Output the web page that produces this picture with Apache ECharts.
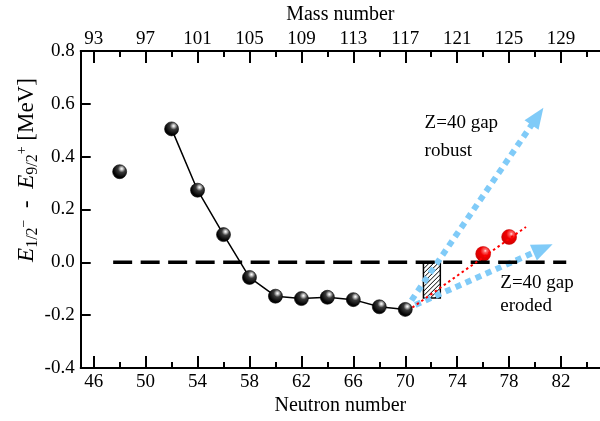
<!DOCTYPE html>
<html><head><meta charset="utf-8">
<script src="https://cdn.jsdelivr.net/npm/echarts@6/dist/echarts.min.js"></script>
<style>html,body{margin:0;padding:0;background:#fff}#c{width:600px;height:421px}</style>
</head><body><div id="c"></div>
<script>
// ---- data ----
const neutronNumbers = [48, 52, 54, 56, 58, 60, 62, 64, 66, 68, 70];
const energyDiff = [0.343, 0.505, 0.273, 0.105, -0.057, -0.128, -0.137, -0.132, -0.141, -0.168, -0.178];
const predictedN = [76, 78];
const predictedE = [0.032, 0.096];
const fitLineN = [70.2, 79.3];
const fitLineE = [-0.183, 0.134];
const zeroLineN = [47.5, 82.4];
const zeroLineE = [0, 0];
const robustArrow = [70, -0.178, 80.64, 0.585];
const erodedArrow = [70, -0.178, 81.35, 0.069];
const hatchBox = [71.4, 0, 72.7, -0.135];
const neutronTicks = [46, 50, 54, 58, 62, 66, 70, 74, 78, 82];
const neutronMinorTicks = [48, 52, 56, 60, 64, 68, 72, 76, 80, 84];
const massTicks = [93, 97, 101, 105, 109, 113, 117, 121, 125, 129];
const labelTexts = ['Z=40 gap', 'robust', 'Z=40 gap', 'eroded'];
const labelN = [71.49, 71.49, 77.32, 77.32];
const labelE = [0.526, 0.423, -0.079, -0.166];

const FONT = 'Liberation Serif';
const BLUE = '#80cbf8';
const chart = echarts.init(document.getElementById('c'), null, {renderer: 'canvas'});

const blackBall = {
  type: 'radial', x: 0.64, y: 0.3, r: 0.8,
  colorStops: [{offset: 0, color: '#ffffff'}, {offset: 0.1, color: '#cfcfcf'}, {offset: 0.32, color: '#3a3a3a'}, {offset: 0.75, color: '#000'}, {offset: 1, color: '#1c1c1c'}]
};
const redBall = {
  type: 'radial', x: 0.64, y: 0.3, r: 0.8,
  colorStops: [{offset: 0, color: '#ffe8e8'}, {offset: 0.12, color: '#ff6a6a'}, {offset: 0.4, color: '#f00000'}, {offset: 0.8, color: '#d80000'}, {offset: 1, color: '#b00000'}]
};

// y-axis title pieces (measured so subscripts can be placed)
const mctx = document.createElement('canvas').getContext('2d');
function tw(t, size, italic) { mctx.font = (italic ? 'italic ' : '') + size + 'px "' + FONT + '"'; return mctx.measureText(t).width; }
const titlePieces = [
  {t: 'E', s: 23, it: true, dy: 0}, {t: '1/2', s: 16, dy: 6}, {t: '−', s: 14, dy: -3},
  {t: '  -  ', s: 23, dy: 0},
  {t: 'E', s: 23, it: true, dy: 0}, {t: '9/2', s: 16, dy: 6}, {t: '+', s: 14, dy: -5},
  {t: ' [MeV]', s: 23, dy: 0}
];
let tot = 0; titlePieces.forEach(p => { p.w = tw(p.t, p.s, p.it); tot += p.w; });
let cx = -tot / 2;
const titleChildren = titlePieces.map(p => {
  const el = {type: 'text', x: cx, y: p.dy, style: {text: p.t, fontFamily: FONT, fontSize: p.s,
    fontStyle: p.it ? 'italic' : 'normal', fill: '#000', align: 'left', verticalAlign: 'middle'}};
  cx += p.w; return el;
});

const tickStyle = {color: '#000', width: 2};
function xAxisDef(pos, major) {
  const a = {
    type: 'value', position: pos, min: 45, max: 85,
    splitLine: {show: false},
    axisLine: {show: major, onZero: false, lineStyle: {color: '#000', width: 2}},
    axisTick: {show: true, inside: true, length: major ? 12 : 6, lineStyle: tickStyle,
      customValues: major ? neutronTicks : neutronMinorTicks},
    axisLabel: {show: major, customValues: neutronTicks, margin: pos === 'bottom' ? 4 : 2,
      fontFamily: FONT, fontSize: 19, color: '#000'}
  };
  if (major) {
    a.name = pos === 'bottom' ? 'Neutron number' : 'Mass number';
    a.nameLocation = 'middle';
    a.nameGap = pos === 'bottom' ? 22 : 24;
    a.nameTextStyle = {fontFamily: FONT, fontSize: 20, color: '#000'};
    if (pos === 'top') a.axisLabel.formatter = v => String(massTicks[neutronTicks.indexOf(v)]);
  }
  return a;
}

const option = {
  animation: false,
  backgroundColor: '#fff',
  grid: {left: 80.7, right: -2.3, top: 49.3, bottom: 47.7},
  xAxis: [xAxisDef('bottom', true), xAxisDef('bottom', false), xAxisDef('top', true), xAxisDef('top', false)],
  yAxis: {
    type: 'value', min: -0.4, max: 0.8, interval: 0.2,
    splitLine: {show: false},
    axisLine: {show: true, onZero: false, lineStyle: {color: '#000', width: 2}},
    axisTick: {inside: true, length: 10, lineStyle: tickStyle},
    axisLabel: {margin: 6, fontFamily: FONT, fontSize: 19, color: '#000',
      formatter: v => (Math.abs(v) < 1e-9 ? 0 : v).toFixed(1)}
  },
  graphic: [{type: 'group', x: 27, y: 170, rotation: Math.PI / 2, children: titleChildren}],
  series: [
    { // dashed zero line
      type: 'line', data: zeroLineN.map((n, i) => [n, zeroLineE[i]]), symbol: 'none', silent: true,
      lineStyle: {color: '#000', width: 3.5, type: [19, 8.5], cap: 'butt'}
    },
    { // hatched box
      type: 'custom', data: [hatchBox], silent: true,
      renderItem: (params, api) => {
        const a = api.coord([api.value(0), api.value(1)]);
        const b = api.coord([api.value(2), api.value(3)]);
        const L = Math.min(a[0], b[0]), R = Math.max(a[0], b[0]);
        const T = Math.min(a[1], b[1]), B = Math.max(a[1], b[1]);
        const children = [{type: 'rect', shape: {x: L, y: T, width: R - L, height: B - T},
          style: {fill: '#fff', stroke: 'none'}}];
        for (let k = L + T + 2; k < R + B; k += 4.5) {
          const xa = Math.max(L, k - B), xb = Math.min(R, k - T);
          if (xb > xa) children.push({type: 'line', shape: {x1: xa, y1: k - xa, x2: xb, y2: k - xb},
            style: {stroke: '#000', lineWidth: 1}});
        }
        children.push({type: 'rect', shape: {x: L, y: T, width: R - L, height: B - T},
          style: {fill: 'none', stroke: '#000', lineWidth: 1.5}});
        return {type: 'group', children};
      }
    },
    { // connected data
      type: 'line', data: neutronNumbers.slice(1).map((n, i) => [n, energyDiff[i + 1]]),
      symbol: 'circle', symbolSize: 14, showAllSymbol: true,
      lineStyle: {color: '#000', width: 1.5},
      itemStyle: {color: blackBall, borderColor: '#000', borderWidth: 0.6, opacity: 1}
    },
    { // isolated point
      type: 'scatter', data: [[neutronNumbers[0], energyDiff[0]]],
      symbol: 'circle', symbolSize: 14,
      itemStyle: {color: blackBall, borderColor: '#000', borderWidth: 0.6, opacity: 1}
    },
    { // blue arrows
      type: 'custom', data: [robustArrow, erodedArrow], silent: true,
      renderItem: (params, api) => {
        const p0 = api.coord([api.value(0), api.value(1)]);
        const p1 = api.coord([api.value(2), api.value(3)]);
        const dx = p1[0] - p0[0], dy = p1[1] - p0[1];
        const len = Math.hypot(dx, dy), ux = dx / len, uy = dy / len;
        const hl = 21, hw = 17;
        const bx = p1[0] - ux * hl, by = p1[1] - uy * hl;
        const nx = -uy, ny = ux;
        return {type: 'group', children: [
          {type: 'line', shape: {x1: p0[0], y1: p0[1], x2: bx + ux * 2, y2: by + uy * 2},
            style: {stroke: BLUE, lineWidth: 6, lineDash: [6, 5], lineCap: 'butt'}},
          {type: 'polygon', shape: {points: [[p1[0], p1[1]], [bx + nx * hw / 2, by + ny * hw / 2], [bx - nx * hw / 2, by - ny * hw / 2]]},
            style: {fill: BLUE}}
        ]};
      }
    },
    { // red fit line
      type: 'line', data: fitLineN.map((n, i) => [n, fitLineE[i]]), symbol: 'none', silent: true,
      lineStyle: {color: '#ff0000', width: 2, type: [2.5, 3]}
    },
    { // predicted points
      type: 'scatter', data: predictedN.map((n, i) => [n, predictedE[i]]),
      symbol: 'circle', symbolSize: 15,
      itemStyle: {color: redBall, borderColor: '#c00000', borderWidth: 0.5, opacity: 1}
    },
    { // annotations
      type: 'custom', data: labelTexts.map((t, i) => [labelN[i], labelE[i], i]), silent: true,
      renderItem: (params, api) => {
        const p = api.coord([api.value(0), api.value(1)]);
        return {type: 'text', x: p[0], y: p[1], style: {text: labelTexts[api.value(2)],
          fontFamily: FONT, fontSize: 19, fill: '#000', align: 'left', verticalAlign: 'middle'}};
      }
    }
  ]
};
chart.setOption(option);
</script>
</body></html>
